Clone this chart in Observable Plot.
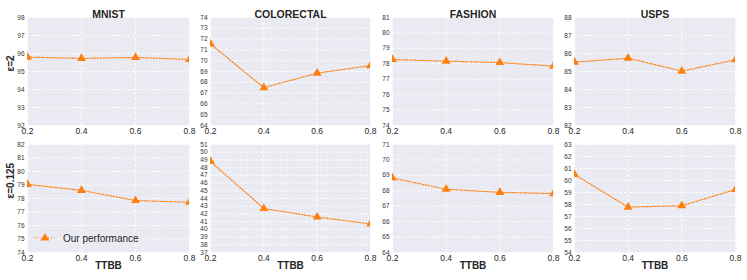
<!DOCTYPE html>
<html><head><meta charset="utf-8">
<script src="https://cdn.jsdelivr.net/npm/d3@7"></script>
<script src="https://cdn.jsdelivr.net/npm/@observablehq/plot@0.6"></script>
<style>
body{margin:0;background:#fff;font-family:"Liberation Sans",Arial,Helvetica,sans-serif;}
#wrap{position:relative;width:747px;height:280px;overflow:hidden;}
.panel{position:absolute;}
.panel svg{overflow:visible;}
#legend{position:absolute;left:33px;top:231px;display:flex;align-items:center;font-size:10px;color:#262626;white-space:nowrap;}
#legend span{margin-left:6px;}
</style></head><body><div id="wrap"></div>
<script>
// ---- data ----
const ttbb = [0.2, 0.4, 0.6, 0.8];
const datasets = ["MNIST", "COLORECTAL", "FASHION", "USPS"];
const epsilonLabels = ["ε=2", "ε=0.125"];

// epsilon = 2 (top row)
const mnistEps2      = [95.80, 95.73, 95.78, 95.67];
const colorectalEps2 = [71.55, 67.50, 68.85, 69.55];
const fashionEps2    = [78.28, 78.17, 78.08, 77.85];
const uspsEps2       = [85.52, 85.74, 85.02, 85.65];

// epsilon = 0.125 (bottom row)
const mnistEps0125      = [79.05, 78.60, 77.85, 77.72];
const colorectalEps0125 = [48.80, 42.70, 41.60, 40.70];
const fashionEps0125    = [68.83, 68.10, 67.90, 67.82];
const uspsEps0125       = [60.50, 57.78, 57.90, 59.25];

// y-axis tick ranges (min, max) per panel
const yRangesEps2    = [[92, 98], [64, 74], [74, 81], [82, 88]];
const yRangesEps0125 = [[74, 82], [37, 51], [64, 71], [54, 63]];

const legendLabel = "Our performance";
const xLabel = "TTBB";

// ---- layout ----
const color = "#ff7f0e";
const colLefts = [27, 210, 392, 574];
const colWidths = [162, 160, 161, 161];
const mL = 26, mR = 8;
const rows = [
  {values: [mnistEps2, colorectalEps2, fashionEps2, uspsEps2], ranges: yRangesEps2, top: 0, mT: 17, mB: 15, plotH: 108},
  {values: [mnistEps0125, colorectalEps0125, fashionEps0125, uspsEps0125], ranges: yRangesEps0125, top: 135, mT: 9, mB: 28, plotH: 108}
];

const wrap = document.getElementById("wrap");
const gridStyle = {stroke: "white", strokeOpacity: 1, strokeWidth: 0.9, strokeDasharray: "3,2"};

rows.forEach((row, r) => {
  row.values.forEach((vals, c) => {
    const data = ttbb.map((t, i) => ({t, v: vals[i]}));
    const [lo, hi] = row.ranges[c];
    const yTicks = d3.range(lo, hi + 1);
    const marks = [
      Plot.frame({fill: "#eaeaf2", stroke: null}),
      Plot.gridX({ticks: ttbb, ...gridStyle}),
      Plot.gridY({ticks: yTicks, ...gridStyle}),
      Plot.axisY({ticks: yTicks, tickFormat: d3.format("d"), tickSize: 0, tickPadding: 3, fontSize: 6.5, fill: "#333", label: null}),
      Plot.axisX({ticks: ttbb, tickFormat: d3.format(".1f"), tickSize: 0, tickPadding: 2, fontSize: 8.5, fill: "#262626", label: null}),
      Plot.line(data, {x: "t", y: "v", stroke: color, strokeWidth: 1.2, strokeDasharray: "1.2,1.6", clip: true}),
      Plot.dot(data, {x: "t", y: "v", symbol: "triangle", fill: color, stroke: null, r: 3.3, clip: true})
    ];
    if (r === 0) {
      marks.push(Plot.text([datasets[c]], {text: d => d, frameAnchor: "top", dy: -7, fontSize: 10.5, fontWeight: "bold", fill: "#262626"}));
    } else {
      marks.push(Plot.text([xLabel], {text: d => d, frameAnchor: "bottom", dy: 16, fontSize: 10, fontWeight: "bold", fill: "#262626"}));
    }
    if (c === 0) {
      marks.push(Plot.text([epsilonLabels[r]], {text: d => d, frameAnchor: "left", dx: -17, rotate: -90, fontSize: 10, fontWeight: "bold", fill: "#262626"}));
    }
    const chart = Plot.plot({
      width: colWidths[c] + mL + mR,
      height: row.plotH + row.mT + row.mB,
      marginLeft: mL, marginRight: mR, marginTop: row.mT, marginBottom: row.mB,
      x: {domain: [0.2, 0.8]},
      y: {domain: [lo, hi]},
      style: {fontFamily: '"Liberation Sans", Arial, sans-serif', background: "transparent", overflow: "visible"},
      marks
    });
    const div = document.createElement("div");
    div.className = "panel";
    div.style.left = (colLefts[c] - mL) + "px";
    div.style.top = row.top + "px";
    div.appendChild(chart);
    wrap.appendChild(div);
  });
});

// legend (inside bottom-left panel)
const legend = document.createElement("div");
legend.id = "legend";
legend.innerHTML = `<svg width="24" height="14" style="overflow:visible"><line x1="1" y1="7" x2="23" y2="7" stroke="${color}" stroke-width="1.2" stroke-dasharray="1.2,1.6"/><path d="${d3.symbol(d3.symbolTriangle, 34)()}" transform="translate(12,7)" fill="${color}"/></svg><span></span>`;
legend.querySelector("span").textContent = legendLabel;
wrap.appendChild(legend);
</script>
</body></html>
